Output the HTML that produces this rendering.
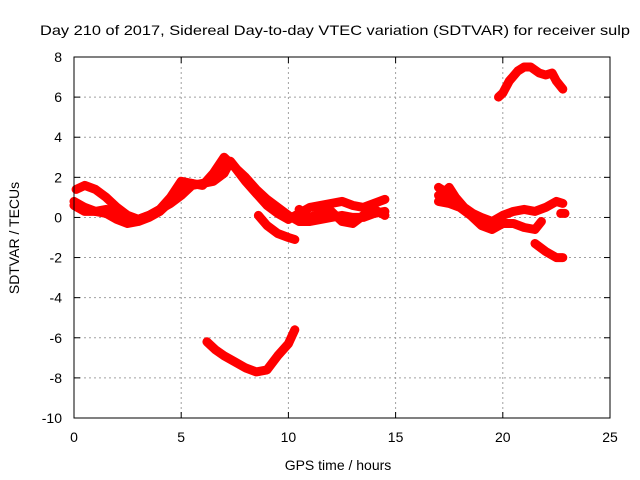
<!DOCTYPE html>
<html><head><meta charset="utf-8"><style>
body{margin:0;background:#fff}
svg{display:block;font-family:"Liberation Sans",sans-serif}
</style></head><body>
<svg id="chart" width="640" height="480">
<text x="40" y="35" font-size="14" textLength="590" lengthAdjust="spacingAndGlyphs">Day 210 of 2017, Sidereal Day-to-day VTEC variation (SDTVAR) for receiver sulp</text>
<g id="grid"></g>
<g id="series"></g>
<rect x="74" y="57" width="536" height="361" fill="none" stroke="#000" stroke-width="1"/>
<g id="ticks"></g>
<text x="338" y="470" font-size="14" text-anchor="middle">GPS time / hours</text>
<text transform="translate(19,238) rotate(-90)" font-size="14" text-anchor="middle">SDTVAR / TECUs</text>
</svg>
<script>
const xTicks=[0,5,10,15,20,25];
const yTicks=[8,6,4,2,0,-2,-4,-6,-8,-10];
const trackNames=['band-1','band-2','band-3','dip-track','branch-track','late-mid-track','evening-high','evening-1','evening-2','evening-low','evening-blob','evening-dot'];
const trackTimes=[
 [0,0.5,1,1.5,2,2.5,3,3.5,4,4.5,5,5.5,6,6.5,7,7.5,8,8.5,9,9.5,10,10.5,11,11.5,12,12.5,13,13.5,14,14.5],
 [0.1,0.5,1,1.5,2,2.5,3,3.5,4,4.5,5,5.5,6,6.5,7,7.3,7.6,8,8.5,9,9.5,10,10.5,11,11.5,12,12.5,13,13.5,14,14.5],
 [0,0.5,1,1.5,2,2.5,3,3.5,4,4.5,5,5.5],
 [8.6,9,9.5,10,10.3],
 [6.2,6.6,7,7.5,8,8.5,9,9.5,10,10.3],
 [10.5,11,11.5,12,12.5,13,13.5,14,14.5],
 [19.8,20,20.3,20.7,21,21.3,21.7,22,22.3,22.5,22.8],
 [17,17.3,17.5,17.8,18.2,18.6,19,19.5,20,20.5,21,21.5,22,22.5,22.8],
 [17,17.5,18,18.5,19,19.5,20,20.5,21,21.5,21.8],
 [21.5,22,22.5,22.8],
 [17,17.4,17.8,18.2,18.6],
 [22.7,22.9]
];
const trackValues=[
 [0.8,0.5,0.3,0.2,-0.1,-0.3,-0.2,0,0.3,0.8,1.5,1.7,1.6,2.2,3,2.5,1.8,1.2,0.6,0.2,-0.1,0.2,0.5,0.6,0.7,0.8,0.6,0.5,0.7,0.9],
 [1.4,1.6,1.4,1.0,0.5,0.1,-0.1,0.1,0.4,0.7,1.1,1.6,1.7,1.8,2.2,2.8,2.4,2.0,1.4,0.9,0.5,0.1,-0.2,-0.2,-0.1,0,0.1,0,0,0.2,0.3],
 [0.6,0.3,0.3,0.4,0.2,-0.1,-0.1,0.1,0.4,1.0,1.8,1.7],
 [0.1,-0.4,-0.8,-1.0,-1.1],
 [-6.2,-6.6,-6.9,-7.2,-7.5,-7.7,-7.6,-6.9,-6.3,-5.6],
 [0.4,0.0,0.2,0.3,-0.2,-0.3,0.1,0.4,0.1],
 [6.0,6.2,6.8,7.3,7.5,7.5,7.2,7.1,7.2,6.8,6.4],
 [1.5,1.3,1.5,1.0,0.5,0.2,0,-0.2,0.1,0.3,0.4,0.3,0.5,0.8,0.7],
 [0.8,0.7,0.5,0.1,-0.4,-0.6,-0.3,-0.3,-0.5,-0.6,-0.2],
 [-1.3,-1.7,-2.0,-2.0],
 [1.1,1.0,0.7,0.4,0.1],
 [0.2,0.2]
];
const xMin=0,xMax=25,yMin=-10,yMax=8;
const L=74,R=610,T=57,B=418;
const X=t=>L+(t-xMin)/(xMax-xMin)*(R-L);
const Y=v=>B-(v-yMin)/(yMax-yMin)*(B-T);
const NS='http://www.w3.org/2000/svg';
const grid=document.getElementById('grid'),ticks=document.getElementById('ticks'),ser=document.getElementById('series');
function mk(tag,attrs,parent){const e=document.createElementNS(NS,tag);for(const k in attrs)e.setAttribute(k,attrs[k]);parent.appendChild(e);return e;}
xTicks.forEach(t=>{
 const x=X(t);
 if(t>xMin&&t<xMax){const g=mk('line',{x1:x,y1:T,x2:x,y2:B,stroke:'#a0a0a0','stroke-dasharray':'2,3'},grid);
 
 }
 mk('line',{x1:x,y1:B,x2:x,y2:B-6,stroke:'#000'},ticks);
 mk('line',{x1:x,y1:T,x2:x,y2:T+6,stroke:'#000'},ticks);
 const tx=mk('text',{x:x,y:B+24,'font-size':14,'text-anchor':'middle'},ticks);
 tx.textContent=t;
 
 
});
yTicks.forEach(v=>{
 const y=Y(v);
 if(v>yMin&&v<yMax){const g=mk('line',{x1:L,y1:y,x2:R,y2:y,stroke:'#a0a0a0','stroke-dasharray':'2,3'},grid);
 
 }
 mk('line',{x1:L,y1:y,x2:L+6,y2:y,stroke:'#000'},ticks);
 mk('line',{x1:R,y1:y,x2:R-6,y2:y,stroke:'#000'},ticks);
 const tx=mk('text',{x:L-12,y:y+5,'font-size':14,'text-anchor':'end'},ticks);
 tx.textContent=v;
 
 
});
trackTimes.forEach((ts,i)=>{
 const pts=ts.map((t,j)=>X(t).toFixed(1)+','+Y(trackValues[i][j]).toFixed(1)).join(' ');
 const p=mk('polyline',{points:pts,fill:'none',stroke:'#ff0000','stroke-width':9,'stroke-linejoin':'round','stroke-linecap':'round'},ser);
 
 
});
</script>
</body></html>
